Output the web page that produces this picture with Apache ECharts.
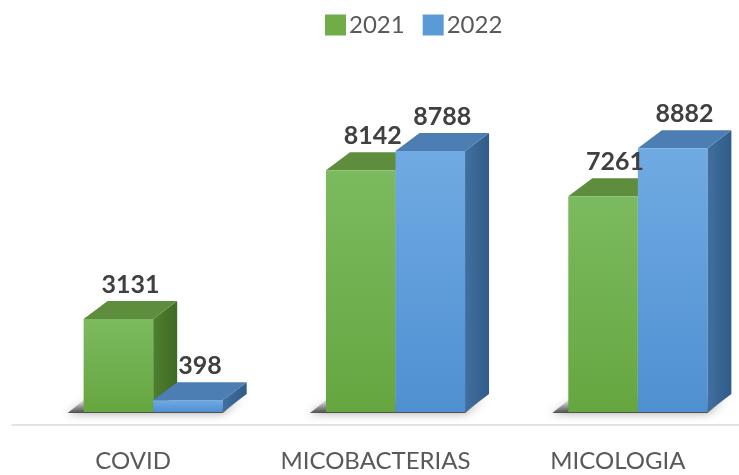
<!DOCTYPE html>
<html>
<head>
<meta charset="utf-8">
<script src="https://cdn.jsdelivr.net/npm/echarts@6/dist/echarts.min.js"></script>
<style>
  html, body { margin: 0; padding: 0; background: #fff; }
  #chart { width: 739px; height: 475px; }
</style>
</head>
<body>
<div id="chart"></div>
<script>
// Data
const categories = ['COVID', 'MICOBACTERIAS', 'MICOLOGIA'];
const years = ['2021', '2022'];
const values2021 = [3131, 8142, 7261];
const values2022 = [398, 8788, 8882];

// 3D look: depth of the bars and how far the bars sit behind the axis line
const DEPTH_X = 24;
const DEPTH_Y = -18;
const FLOOR_X = 20;
const FLOOR_Y = -13;
const BAR_RATIO = 0.287;

const palettes = [
    { front: ['#7cba5f', '#66a640'], top: '#5d8d3d', side: ['#4e7f30', '#3f6a25'] },
    { front: ['#70aae2', '#4f90d2'], top: '#4c7db3', side: ['#416f9f', '#2f5c88'] }
];

function makeRenderItem(seriesIdx) {
    return function (params, api) {
        const idx = api.value(0);
        const val = api.value(1);
        const base = api.coord([idx, 0]);
        const top = api.coord([idx, val]);
        const band = api.size([1, 0])[0];
        const w = band * BAR_RATIO;
        const cx = base[0] + FLOOR_X;
        const x0 = seriesIdx === 0 ? cx - w : cx;
        const x1 = x0 + w;
        const yb = base[1] + FLOOR_Y;
        const yt = top[1] + FLOOR_Y;
        const pal = palettes[seriesIdx];
        const children = [];

        // soft shadow at the foot of each group
        if (seriesIdx === 0) {
            children.push({
                type: 'polygon',
                shape: { points: [[x0 - 16, yb + 1], [x1 + w, yb + 1], [x1 + w + DEPTH_X, yb + DEPTH_Y], [x0 + DEPTH_X - 16, yb + DEPTH_Y]] },
                style: {
                    fill: new echarts.graphic.LinearGradient(0, 1, 0, 0, [
                        { offset: 0, color: 'rgba(40,40,40,0.8)' },
                        { offset: 0.5, color: 'rgba(90,90,90,0.3)' },
                        { offset: 1, color: 'rgba(140,140,140,0)' }
                    ]),
                    shadowBlur: 10,
                    shadowColor: 'rgba(0,0,0,0.45)'
                }
            });
        }

        // side face
        children.push({
            type: 'polygon',
            shape: { points: [[x1, yt], [x1 + DEPTH_X, yt + DEPTH_Y], [x1 + DEPTH_X, yb + DEPTH_Y], [x1, yb]] },
            style: {
                fill: new echarts.graphic.LinearGradient(0, 0, 1, 0, [
                    { offset: 0, color: pal.side[0] },
                    { offset: 1, color: pal.side[1] }
                ])
            }
        });
        // top face
        children.push({
            type: 'polygon',
            shape: { points: [[x0, yt], [x0 + DEPTH_X, yt + DEPTH_Y], [x1 + DEPTH_X, yt + DEPTH_Y], [x1, yt]] },
            style: { fill: pal.top }
        });
        // front face
        children.push({
            type: 'rect',
            shape: { x: x0, y: yt, width: w, height: yb - yt },
            style: {
                fill: new echarts.graphic.LinearGradient(0, 0, 0, 1, [
                    { offset: 0, color: pal.front[0] },
                    { offset: 1, color: pal.front[1] }
                ])
            }
        });
        // value label, kept above the neighbouring bar
        children.push({
            type: 'text',
            z2: 100,
            style: {
                text: String(val),
                x: x0 + w / 2 + DEPTH_X / 2,
                y: yt + DEPTH_Y - 4,
                align: 'center',
                verticalAlign: 'bottom',
                font: 'bold 25px Lato',
                fill: '#404040'
            }
        });
        return { type: 'group', children: children };
    };
}

const chart = echarts.init(document.getElementById('chart'));

chart.setOption({
    animation: false,
    legend: {
        data: years,
        left: 320,
        top: 8,
        icon: 'rect',
        itemWidth: 21,
        itemHeight: 21,
        itemGap: 18,
        textStyle: { fontFamily: 'Lato', fontSize: 24, color: '#595959', padding: [0, 0, 0, -2] }
    },
    grid: { left: 12, right: 0, top: 128, bottom: 50 },
    xAxis: {
        type: 'category',
        data: categories,
        axisLine: { lineStyle: { color: '#d9d9d9', width: 1.5 } },
        axisTick: { show: false },
        axisLabel: { interval: 0, fontFamily: 'Lato', fontSize: 24, color: '#595959', margin: 24 }
    },
    yAxis: {
        type: 'value',
        min: 0,
        max: 10000,
        show: false,
        splitLine: { show: false }
    },
    series: [
        {
            name: '2021',
            type: 'custom',
            clip: false,
            itemStyle: { color: '#70ad47' },
            renderItem: makeRenderItem(0),
            data: values2021.map((v, i) => [i, v])
        },
        {
            name: '2022',
            type: 'custom',
            clip: false,
            itemStyle: { color: '#5b9bd5' },
            renderItem: makeRenderItem(1),
            data: values2022.map((v, i) => [i, v])
        }
    ]
});
</script>
</body>
</html>
